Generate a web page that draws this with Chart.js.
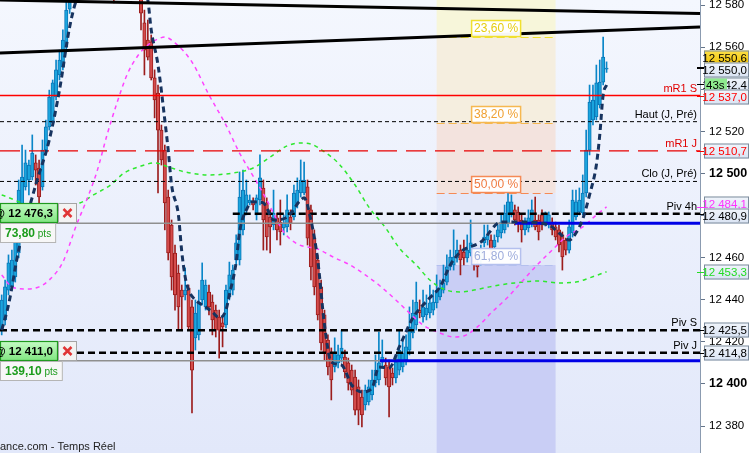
<!DOCTYPE html>
<html><head><meta charset="utf-8">
<script src="https://cdn.jsdelivr.net/npm/chart.js@4/dist/chart.umd.min.js"></script>
<style>html,body{margin:0;padding:0;background:#fff;overflow:hidden}#wrap{width:753px;height:453px;position:relative}</style>
</head><body><div id="wrap"><canvas id="c" width="753" height="453"></canvas></div>
<script>
// ---------- DATA ----------
const opens = [
12425.6,12430.4,12444.6,12446.1,12450.8,12462.2,12484.1,12493.6,12496.9,12498.3,
12505.0,12502.6,12493.6,12511.1,12522.1,12524.0,12536.3,12546.8,12550.6,12560.1,
12578,12588,12595,12592,12600,12605,12602,12608,12604,12598,
12603,12596,12590,12594,12588,12595,12600,12597,12602,12598,
12594,12587,12571.5,12563.4,12562.5,12545.4,12538.2,12520.6,12511.1,12488.8,
12475.5,12462.2,12452.7,12444.6,12442.3,12445.6,12436.6,12421.9,12423.3,12439.9,
12436.6,12443.7,12438.9,12435.1,12431.8,12429.0,12428.0,12441.3,12444.6,12458.9,
12458.9,12473.2,12482.7,12486.0,12486.5,12480.3,12487.4,12493.1,12486.0,12479.3,
12475.5,12478.9,12476.9,12474.1,12474.6,12479.3,12479.3,12486.0,12490.7,12490.7,
12493.6,12482.7,12469.3,12458.9,12446.1,12432.8,12420.9,12414.7,12408.1,12410.0,
12412.3,12412.8,12410.0,12406.6,12403.3,12398.6,12393.8,12390.0,12391.5,12394.8,
12400.5,12401.9,12410.4,12409.0,12408.1,12405.2,12402.9,12406.6,12408.1,12411.4,
12416.1,12424.2,12428.0,12435.1,12431.8,12432.8,12433.7,12435.1,12438.5,12441.3,
12444.6,12448.4,12455.6,12456.5,12459.9,12463.6,12462.7,12459.9,12462.2,12460.3,
12457.5,12458.9,12467.0,12468.4,12468.4,12465.1,12469.8,12471.7,12473.2,12476.5,
12481.2,12482.7,12481.7,12477.9,12473.2,12474.1,12476.5,12477.9,12477.9,12480.3,
12476.9,12475.5,12476.9,12474.6,12473.2,12470.8,12468.4,12463.6,12471.7,12479.3,
12481.7,12481.2,12490.7,12511.1,12525.4,12526.8,12532.5,12543.4,12549.5];
const closes = [
12439.9,12446.1,12457.5,12458.9,12468.4,12492.1,12498.3,12505.0,12504.0,12509.7,
12501.6,12488.8,12511.1,12522.1,12536.3,12543.0,12549.2,12553.9,12563.4,12577.6,
12588,12595,12592,12600,12605,12602,12608,12604,12598,12603,
12596,12590,12594,12588,12595,12600,12597,12602,12598,12594,
12588,12576.2,12558.6,12555.3,12545.4,12534.9,12520.6,12506.4,12486.0,12462.2,
12450.8,12442.3,12436.6,12441.3,12444.6,12427.1,12406.6,12433.7,12438.9,12449.4,
12447.0,12436.6,12430.4,12425.6,12425.6,12427.1,12444.6,12451.8,12454.1,12467.0,
12488.8,12492.1,12489.8,12487.4,12485.0,12488.4,12497.9,12477.9,12469.8,12474.6,
12481.2,12473.2,12472.2,12476.5,12482.7,12476.5,12490.7,12492.1,12496.9,12496.9,
12469.3,12455.6,12446.1,12432.8,12419.5,12414.7,12408.1,12401.9,12414.7,12413.8,
12417.1,12405.7,12400.5,12397.1,12387.6,12387.6,12385.3,12397.1,12398.6,12401.9,
12406.6,12410.0,12412.8,12402.9,12398.6,12402.9,12410.4,12416.1,12414.7,12417.6,
12427.1,12433.7,12438.9,12433.7,12436.6,12436.1,12438.5,12438.9,12444.6,12445.6,
12448.0,12455.6,12460.3,12460.3,12463.6,12458.9,12459.9,12463.6,12467.0,12457.9,
12455.6,12463.6,12469.8,12470.8,12463.6,12468.4,12473.2,12476.9,12481.2,12486.5,
12486.5,12477.9,12476.5,12473.2,12476.5,12478.9,12482.7,12474.6,12472.2,12475.5,
12481.2,12480.3,12473.2,12469.8,12466.0,12460.3,12463.6,12474.6,12487.4,12486.5,
12487.4,12490.7,12511.1,12533.9,12534.9,12543.0,12543.4,12555.3,12550.0];
const highs = [
12442.3,12449.4,12461.3,12463.6,12473.2,12496.9,12513.5,12511.1,12506.4,12518.3,
12508.8,12506.4,12515.9,12525.4,12539.6,12544.4,12553.9,12558.6,12568.2,12587,
12592,12600,12602,12606,12610,12612,12613,12612,12607,12608,
12606,12600,12598,12597,12600,12604,12605,12606,12604,12601,
12597,12592,12577.6,12572.9,12565.8,12549.2,12542.0,12523.0,12513.5,12492.1,
12477.9,12466.0,12456.5,12447.0,12455.1,12447.0,12439.9,12439.9,12444.6,12457.5,
12449.4,12447.0,12442.3,12437.5,12435.1,12431.4,12447.0,12457.9,12456.5,12470.8,
12500.7,12501.6,12496.9,12489.8,12488.4,12489.8,12508.8,12496.9,12488.4,12482.7,
12492.1,12481.2,12487.4,12480.3,12489.8,12482.7,12494.5,12497.9,12506.4,12505.4,
12496.9,12485.0,12473.2,12461.3,12449.4,12435.1,12423.3,12417.1,12421.9,12418.5,
12425.6,12416.1,12412.3,12409.0,12406.6,12401.9,12397.1,12399.5,12401.9,12406.6,
12413.8,12424.7,12420.9,12412.3,12411.4,12407.6,12413.8,12425.6,12420.9,12423.3,
12436.6,12439.9,12448.4,12439.9,12444.6,12442.3,12447.0,12444.6,12451.8,12449.4,
12456.5,12461.3,12463.6,12473.2,12468.4,12466.0,12468.4,12470.8,12477.9,12463.6,
12461.3,12466.0,12475.5,12475.5,12470.8,12470.8,12475.5,12480.3,12485.0,12490.7,
12489.8,12485.0,12484.1,12480.3,12478.9,12482.7,12487.4,12488.8,12480.3,12482.7,
12481.7,12481.7,12478.9,12476.9,12475.5,12472.2,12469.3,12477.9,12492.1,12492.1,
12493.1,12499.3,12520.6,12542.0,12542.0,12551.5,12553.9,12564.8,12553.0];
const lows = [
12423.3,12428.0,12442.3,12444.6,12448.4,12459.9,12482.7,12492.1,12489.8,12496.9,
12494.5,12485.0,12492.1,12508.8,12520.6,12523.0,12534.9,12544.4,12549.2,12558.6,
12576,12585,12588,12589,12596,12598,12599,12600,12594,12595,
12590,12586,12586,12581,12585,12592,12593,12594,12592,12590,
12585,12568.2,12546.8,12553.9,12544.4,12526.4,12490.7,12504.0,12473.2,12458.9,
12444.6,12435.1,12425.6,12425.6,12439.9,12425.6,12386.2,12416.1,12420.9,12437.5,
12435.1,12432.8,12423.3,12422.3,12412.3,12417.6,12426.6,12439.9,12442.3,12456.5,
12456.5,12470.8,12480.3,12485.0,12482.7,12477.9,12485.0,12463.6,12463.6,12462.2,
12473.2,12468.4,12466.0,12470.8,12472.2,12473.2,12477.9,12483.6,12488.8,12489.8,
12466.0,12449.4,12442.3,12430.4,12416.1,12411.4,12404.3,12392.4,12405.7,12407.6,
12410.4,12402.9,12397.1,12394.8,12385.3,12380.6,12379.6,12387.6,12390.0,12392.4,
12398.6,12399.5,12408.1,12399.5,12384.3,12399.5,12400.5,12404.3,12405.7,12409.0,
12413.8,12421.9,12425.6,12431.4,12429.4,12430.4,12431.4,12432.8,12436.1,12439.9,
12443.2,12447.0,12454.1,12454.1,12457.9,12451.8,12456.5,12457.9,12460.8,12454.1,
12450.8,12456.5,12465.1,12466.0,12461.3,12463.6,12467.4,12469.3,12471.7,12474.6,
12479.3,12475.5,12472.2,12467.4,12470.8,12472.2,12474.6,12473.2,12468.4,12473.2,
12475.0,12474.1,12470.8,12468.4,12462.7,12454.1,12461.3,12462.2,12469.8,12477.9,
12480.3,12480.3,12488.8,12508.8,12523.0,12525.4,12531.1,12542.0,12548.0];

// fast moving average (dark navy dashes): candle index / price
const fastMaIdx = [0,2,5,10,14,17,20,22,30,40,43,44,46,48,49,50,52,53,54,55,57,60,62,64,66,67,69,70,72,74,77,78,80,84,88,89,91,93,95,97,100,103,106,109,111,114,117,121,126,129,132,135,141,147,153,161,164,167,169,171,173,175,176,177,178];
const fastMaVal = [12425.6,12437.5,12463.6,12494.5,12515.9,12539.6,12569.6,12582.4,12600,12595,12582.4,12568.2,12551.5,12525.4,12511.1,12494.5,12480.3,12462.7,12450.8,12444.6,12439.9,12436.6,12434.2,12431.4,12435.1,12442.3,12457.9,12472.2,12482.7,12486.5,12486.0,12483.6,12477.9,12479.3,12487.4,12488.4,12477.9,12458.9,12428.0,12410.4,12409.0,12399.5,12396.2,12398.1,12408.1,12407.6,12417.6,12431.4,12440.9,12446.1,12456.5,12462.7,12467.4,12476.9,12476.9,12475.5,12471.7,12468.4,12471.7,12478.4,12489.8,12504.0,12518.3,12537.3,12542.0];
// slow moving average (magenta)
const pinkMaIdx = [0,3,7,11,14,18,22,25,28,31,34,37,40,43,46,48,51,56,61,66,70,75,78,83,87,93,98,102,107,111,116,120,124,129,133,136,140,144,149,153,157,162,166,171,175,178];
const pinkMaVal = [12451.8,12446.1,12445.1,12446.1,12449.4,12457.9,12475.5,12487.4,12500.7,12518.3,12533.9,12547.3,12555.8,12561.0,12563.9,12564.8,12562.0,12552.9,12537.3,12523.0,12509.7,12496.0,12487.4,12472.2,12466.5,12464.1,12459.9,12457.0,12451.8,12447.0,12439.9,12433.7,12428.0,12424.2,12422.3,12422.8,12427.1,12433.7,12441.3,12448.4,12455.6,12463.6,12469.8,12474.6,12480.3,12484.1];
// green moving average
const greenMaIdx = [0,11,23,27,32,36,41,45,49,54,61,68,74,79,84,88,91,95,99,104,108,113,117,122,126,130,135,139,145,151,158,164,169,173,178];
const greenMaVal = [12489.8,12484.1,12486.0,12489.8,12494.5,12500.2,12503.5,12505.0,12503.1,12500.7,12499.3,12500.2,12502.6,12507.8,12513.1,12514.5,12514.0,12510.2,12505.0,12494.5,12484.1,12474.1,12464.6,12456.5,12449.4,12445.1,12443.7,12444.6,12446.6,12448.0,12448.9,12448.0,12448.4,12450.4,12453.3];

// trend lines (value at left edge, value at right edge)
const trendLeft = [12582.4, 12557.2];
const trendRight = [12576.0, 12569.6];

// horizontal levels
const levelNames = ['mR1 S','Haut (J, Pré)','mR1 J','Clo (J, Pré)','Piv 4h','Piv S','Piv J'];
const levelValues = [12537.0, 12524.6, 12510.7, 12496.2, 12480.9, 12425.5, 12414.8];
const levelFromIdx = [-0.5, -0.5, -0.5, -0.5, 68, -0.5, -0.5];

// open positions
const entryPrices = [12476.3, 12411.0];
const entryPts = [73.80, 139.10];
const entryBlueFromIdx = [151, 111.3];

// fibonacci retracement
const fibPercents = [23.6, 38.2, 50.0, 61.8];
const fibPrices = [12564.8, 12524.0, 12490.7, 12456.5];
const fibFromIdx = 128, fibToIdx = 163;

// right-axis value tags
const tagValues = [12550.6, 12550.0, 12542.4, 12537.0, 12510.7, 12484.1, 12480.9, 12453.3, 12425.5, 12414.8];

// axis range
const Y_MIN = 12367.2, Y_MAX = 12582.4, Y_STEP = 20;
const X_MIN = -0.5, X_MAX = 205.5;

// ---------- STYLE ----------
const FONT = '"Liberation Sans", Arial, Helvetica, sans-serif';
Chart.defaults.font.family = FONT;
const UP_FILL='#1ba5de', UP_LINE='#0b76b6', DN_FILL='#d44c4c', DN_LINE='#9c1d1d';
const levelStyles = [
  {color:'#ff0000', width:1.4, dash:[], text:'#e00000'},
  {color:'#000000', width:1, dash:[4,3], text:'#000'},
  {color:'#e80000', width:1.3, dash:[20,9], text:'#e00000'},
  {color:'#000000', width:1, dash:[4,3], text:'#000'},
  {color:'#000000', width:2.5, dash:[7,4], text:'#000'},
  {color:'#000000', width:2.5, dash:[7,4], text:'#000'},
  {color:'#000000', width:2.5, dash:[7,4], text:'#000'}
];
const fibZoneColors = ['#f7f6da','#f5eedf','#f3e3de','#e3e8f9','#c9cef5'];
const fibStyles = [
  {line:'#f0e030', text:'#e6cc10'},
  {line:'#f6b850', text:'#f0a030'},
  {line:'#f58a55', text:'#f07a40'},
  {line:'#b4c0ee', text:'#9eacdc'}
];
const tagStyles = [
  {bg:'#f7cf1e', fg:'#000', nudge:-9},
  {bg:'#e5ecf7', fg:'#000', nudge:2},
  {bg:'#e5ecf7', fg:'#000', nudge:1, timer:'43s'},
  {bg:'#e5ecf7', fg:'#ff0000', nudge:1},
  {bg:'#e5ecf7', fg:'#ff0000', nudge:0},
  {bg:'#e5ecf7', fg:'#ff33ff', nudge:-3},
  {bg:'#e5ecf7', fg:'#000', nudge:2},
  {bg:'#e5ecf7', fg:'#22dd22', nudge:0},
  {bg:'#e5ecf7', fg:'#000', nudge:0},
  {bg:'#e5ecf7', fg:'#000', nudge:0}
];

function fmt(v, d) {
  const s = v.toFixed(d);
  const parts = s.split('.');
  return parts[0].replace(/\B(?=(\d{3})+(?!\d))/g, ' ') + (parts[1] ? ',' + parts[1] : '');
}

// ---------- DATASETS ----------
const idx = opens.map((_, i) => i);
const isUp = i => closes[i] >= opens[i];
const pts = (ix, vals) => ix.map((x, k) => ({x, y: vals[k]}));
const datasets = [];

trendLeft.forEach((v, k) => datasets.push({
  type:'line', data:[{x:X_MIN,y:v},{x:X_MAX,y:trendRight[k]}],
  borderColor:'#000', borderWidth:3, pointRadius:0, order:0
}));
datasets.push({type:'line', data:pts(fastMaIdx, fastMaVal), borderColor:'#17335f', borderWidth:3,
  borderDash:[6,4], pointRadius:0, cubicInterpolationMode:'monotone', order:1});
levelValues.forEach((v, k) => {
  const st = levelStyles[k];
  datasets.push({type:'line', data:[{x:levelFromIdx[k],y:v},{x:X_MAX,y:v}], borderColor:st.color,
    borderWidth:st.width, borderDash:st.dash, pointRadius:0, order:2});
});
entryPrices.forEach((v, k) => {
  datasets.push({type:'line', data:[{x:X_MIN,y:v},{x:entryBlueFromIdx[k],y:v}], borderColor:'#8f8f8f',
    borderWidth:1.5, pointRadius:0, order:3});
  datasets.push({type:'line', data:[{x:entryBlueFromIdx[k],y:v},{x:X_MAX,y:v}], borderColor:'#0000e6',
    borderWidth:3, pointRadius:0, order:3});
});
datasets.push({type:'line', data:pts(pinkMaIdx, pinkMaVal), borderColor:'#ff44ff', borderWidth:1.5,
  borderDash:[4,4], pointRadius:0, cubicInterpolationMode:'monotone', order:4});
datasets.push({type:'line', data:pts(greenMaIdx, greenMaVal), borderColor:'#2ee82e', borderWidth:1.5,
  borderDash:[4,4], pointRadius:0, cubicInterpolationMode:'monotone', order:4});
datasets.push({type:'bar', data:idx.map(i => ({x:i, y:[opens[i], closes[i]]})),
  backgroundColor: c => isUp(c.dataIndex) ? UP_FILL : DN_FILL,
  borderColor: c => isUp(c.dataIndex) ? UP_LINE : DN_LINE,
  borderWidth:1, borderSkipped:false, barThickness:3.4, minBarLength:1, grouped:false, order:5});
datasets.push({type:'bar', data:idx.map(i => ({x:i, y:[lows[i], highs[i]]})),
  backgroundColor: c => isUp(c.dataIndex) ? '#0a86c8' : DN_LINE,
  borderWidth:0, barThickness:1, grouped:false, order:6});

// ---------- DECORATION PLUGIN ----------
const deco = {
  id:'deco',
  beforeDraw(chart) {
    const {ctx, chartArea:a, width, height} = chart;
    ctx.save();
    ctx.fillStyle = '#fff'; ctx.fillRect(0, 0, width, height);
    const g = ctx.createLinearGradient(0, a.top, 0, a.bottom);
    g.addColorStop(0, '#f4f7fe'); g.addColorStop(1, '#e2e8fa');
    ctx.fillStyle = g; ctx.fillRect(a.left, a.top, a.right - a.left, a.bottom - a.top);
    ctx.restore();
  },
  beforeDatasetsDraw(chart) {
    const {ctx, chartArea:a, scales:{x, y}} = chart;
    const x0 = x.getPixelForValue(fibFromIdx), x1 = x.getPixelForValue(fibToIdx);
    const py = fibPrices.map(p => y.getPixelForValue(p));
    const b = [a.top, ...py, a.bottom];
    ctx.save();
    for (let k = 0; k < fibZoneColors.length; k++) {
      ctx.fillStyle = fibZoneColors[k];
      ctx.fillRect(x0, b[k], x1 - x0, b[k+1] - b[k]);
    }
    py.forEach((yy, k) => {
      ctx.strokeStyle = fibStyles[k].line; ctx.lineWidth = 1.2; ctx.setLineDash([8,4]);
      ctx.beginPath(); ctx.moveTo(x0, Math.round(yy) + 0.5); ctx.lineTo(x1, Math.round(yy) + 0.5); ctx.stroke();
    });
    ctx.restore();
  },
  afterDatasetsDraw(chart) {
    const {ctx, chartArea:a, scales:{x, y}} = chart;
    ctx.save();
    ctx.font = '11px ' + FONT; ctx.textAlign = 'right'; ctx.textBaseline = 'alphabetic';
    levelValues.forEach((v, k) => {
      ctx.fillStyle = levelStyles[k].text;
      ctx.fillText(levelNames[k], a.right - 3, y.getPixelForValue(v) - 4);
    });
    const xc = (x.getPixelForValue(fibFromIdx) + x.getPixelForValue(fibToIdx)) / 2;
    ctx.font = '12px ' + FONT; ctx.textAlign = 'center'; ctx.textBaseline = 'middle';
    fibPrices.forEach((p, k) => {
      const yy = Math.round(y.getPixelForValue(p));
      const w = 50, h = 17;
      ctx.fillStyle = 'rgba(255,255,255,0.96)';
      ctx.fillRect(xc - w/2, yy - h, w, h);
      ctx.strokeStyle = fibStyles[k].line; ctx.lineWidth = 1.5; ctx.setLineDash([]);
      ctx.strokeRect(xc - w/2 + 0.5, yy - h + 0.5, w - 1, h - 1);
      ctx.fillStyle = fibStyles[k].text;
      ctx.fillText(fmt(fibPercents[k], 2) + ' %', xc, yy - h/2 + 0.5);
    });
    ctx.restore();
  },
  afterDraw(chart) {
    const {ctx, chartArea:a, scales:{y}} = chart;
    ctx.save();
    const bx = a.right + 4, bw = 45, bh = 15;
    tagValues.forEach((v, k) => {
      const st = tagStyles[k];
      const yv = y.getPixelForValue(v);
      const yc = Math.round(yv + st.nudge);
      ctx.strokeStyle = st.fg; ctx.lineWidth = 1;
      ctx.beginPath(); ctx.moveTo(a.right - 3, Math.round(yv) + 0.5); ctx.lineTo(a.right + 4, Math.round(yv) + 0.5); ctx.stroke();
      const g = ctx.createLinearGradient(0, yc - bh/2, 0, yc + bh/2);
      if (st.bg === '#e5ecf7') { g.addColorStop(0, '#f1f5fb'); g.addColorStop(1, '#d9e3f3'); }
      else { g.addColorStop(0, '#fbe04a'); g.addColorStop(1, '#f0c000'); }
      ctx.fillStyle = g;
      ctx.fillRect(bx, yc - bh/2, bw, bh);
      ctx.strokeStyle = '#7c8b9b';
      ctx.strokeRect(bx + 0.5, yc - bh/2 + 0.5, bw - 1, bh - 1);
      ctx.fillStyle = st.fg; ctx.font = '11.5px ' + FONT; ctx.textAlign = 'right'; ctx.textBaseline = 'middle';
      ctx.fillText(fmt(v, 1), bx + bw - 2, yc + 0.5);
      if (st.timer) {
        ctx.fillStyle = '#8fea8f'; ctx.fillRect(bx + 1, yc - bh/2 + 1, 22, bh - 2);
        ctx.fillStyle = '#000'; ctx.textAlign = 'left';
        ctx.fillText(st.timer, bx + 2, yc + 0.5);
      }
    });
    entryPrices.forEach((v, k) => {
      const yy = Math.round(y.getPixelForValue(v));
      const g = ctx.createLinearGradient(0, yy - 20, 0, yy);
      g.addColorStop(0, '#c6fbc6'); g.addColorStop(1, '#7fe57f');
      ctx.fillStyle = g; ctx.fillRect(0, yy - 20, 58, 20);
      ctx.strokeStyle = '#1f9a1f'; ctx.lineWidth = 1.2; ctx.strokeRect(0.5, yy - 19.5, 57, 19);
      ctx.fillStyle = '#000'; ctx.font = 'bold 11.5px ' + FONT; ctx.textAlign = 'right'; ctx.textBaseline = 'middle';
      ctx.fillText('@ ' + fmt(v, 1), 53, yy - 9.5);
      ctx.fillStyle = '#f3f3f3'; ctx.fillRect(58, yy - 20, 19, 20);
      ctx.strokeStyle = '#a5a5a5'; ctx.lineWidth = 1; ctx.strokeRect(58.5, yy - 19.5, 18, 19);
      ctx.strokeStyle = '#e03535'; ctx.lineWidth = 2.5;
      ctx.beginPath(); ctx.moveTo(63.5, yy - 14); ctx.lineTo(71.5, yy - 6); ctx.moveTo(71.5, yy - 14); ctx.lineTo(63.5, yy - 6); ctx.stroke();
      const t1 = fmt(entryPts[k], 2);
      ctx.font = 'bold 12px ' + FONT; const w1 = ctx.measureText(t1).width;
      ctx.font = '10px ' + FONT; const w2 = ctx.measureText(' pts').width;
      const bwid = w1 + w2 + 10;
      ctx.fillStyle = '#f7f7f7'; ctx.fillRect(0, yy, bwid, 20);
      ctx.strokeStyle = '#b5b5b5'; ctx.lineWidth = 1; ctx.strokeRect(0.5, yy + 0.5, bwid - 1, 19);
      ctx.fillStyle = '#1c9c1c'; ctx.textAlign = 'left';
      ctx.font = 'bold 12px ' + FONT; ctx.fillText(t1, 5, yy + 10.5);
      ctx.font = '10px ' + FONT; ctx.fillText(' pts', 5 + w1, yy + 11);
    });
    ctx.fillStyle = '#222'; ctx.font = '11px ' + FONT; ctx.textAlign = 'left'; ctx.textBaseline = 'alphabetic';
    ctx.fillText('ance.com - Temps Réel', a.left, a.bottom - 3);
    ctx.restore();
  }
};

new Chart(document.getElementById('c'), {
  type:'bar',
  data:{datasets},
  options:{
    responsive:false, animation:false, devicePixelRatio:1, events:[],
    layout:{padding:0},
    plugins:{legend:{display:false}, tooltip:{enabled:false}},
    scales:{
      x:{type:'linear', min:X_MIN, max:X_MAX, offset:false, display:false},
      y:{type:'linear', position:'right', min:Y_MIN, max:Y_MAX, beginAtZero:false,
        afterFit(s){ s.width = 53; s.paddingTop = 0; s.paddingBottom = 0; },
        grid:{drawOnChartArea:false, drawTicks:true, tickLength:5, color:'#65758a'},
        border:{display:true, color:'#8b9bb0', width:1},
        ticks:{stepSize:Y_STEP, includeBounds:false, autoSkip:false, padding:4, color:'#000',
          font: c => (c.tick && c.tick.value % 100 === 0) ? {size:12.5, weight:'bold', family:FONT} : {size:11.5, family:FONT},
          callback: v => fmt(v, 0)}
      }
    }
  },
  plugins:[deco]
});
</script></body></html>
